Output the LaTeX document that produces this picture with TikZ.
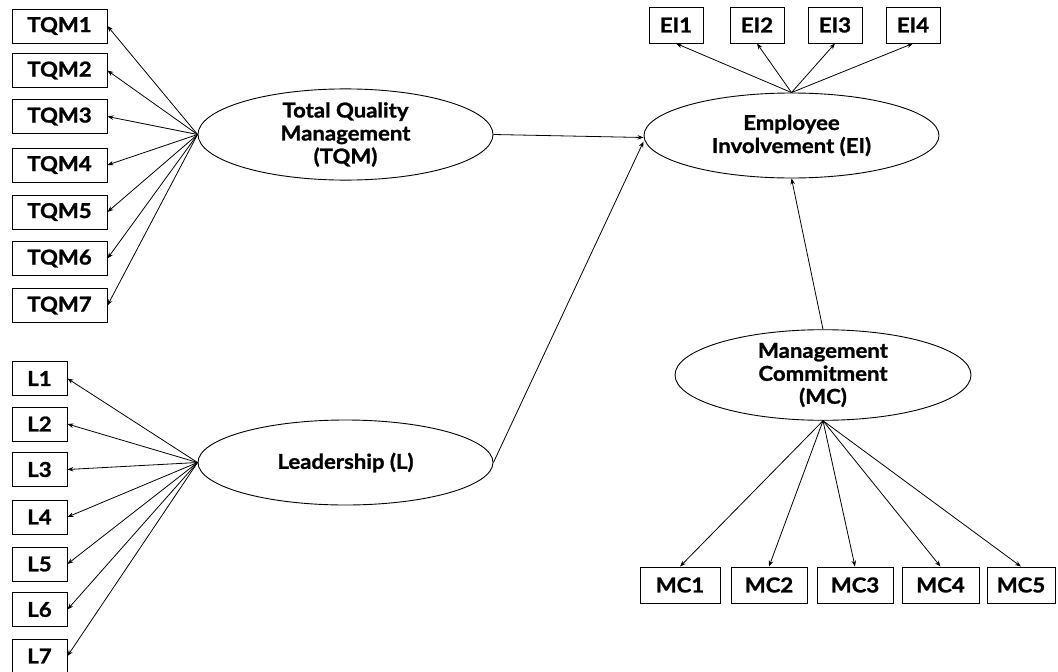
\documentclass[tikz,border=0pt]{standalone}
\usepackage{fontspec}
\setmainfont{Lato}[FakeStretch=1.08, BoldFeatures={FakeBold=1.2}]
\usetikzlibrary{arrows.meta,shapes.geometric}
\begin{document}
\begin{tikzpicture}[x=1pt,y=-1pt,
  txt/.style={font=\bfseries\fontsize{20.5}{23}\selectfont},
  box/.style={draw, line width=0.9pt, inner sep=0pt, minimum height=34pt, txt},
  lat/.style={draw, ellipse, line width=0.9pt, inner sep=0pt, minimum width=295pt, minimum height=85pt, align=center, txt},
  arr/.style={line width=0.8pt, -{Stealth[length=6pt,width=4.5pt]}}]
\useasboundingbox (0,0) rectangle (1058,672);
% latent variables
\node[lat] (TQM) at (345.5,134.5) {Total Quality\\Management\\(TQM)};
\node[lat] (L) at (345.5,462.5) {Leadership (L)};
\node[lat] (EI) at (791.5,135.5) {Employee\\Involvement (EI)};
\node[lat, minimum width=296pt, minimum height=84pt] (MC) at (823,375) {Management\\Commitment\\(MC)};
% TQM indicators
\foreach \i/\y in {1/26,2/70.5,3/116.5,4/165,5/212,6/258.5,7/305.5}{
  \node[box, minimum width=95pt] (TQM\i) at (59.5,\y) {TQM\i};
  \draw[arr] (TQM.west) -- (TQM\i.east);
}
% L indicators
\foreach \i/\y in {1/378.5,2/424,3/469.5,4/517,5/564,6/609.5,7/656}{
  \node[box, minimum width=55pt] (L\i) at (39.5,\y) {L\i};
  \draw[arr] (L.west) -- (L\i.east);
}
% EI indicators
\foreach \i/\x in {1/676,2/757,3/835,4/913}{
  \node[box, minimum width=54pt, minimum height=36pt] (EI\i) at (\x,25) {EI\i};
  \draw[arr] (EI.north) -- (EI\i.south);
}
% MC indicators
\foreach \i/\x/\w in {1/680/80,2/769/76,3/855/76,4/940.5/77,5/1021/68}{
  \node[box, minimum width=\w pt, minimum height=36pt] (MC\i) at (\x,585) {MC\i};
  \draw[arr] (MC.south) -- (MC\i.north);
}
% structural paths
\coordinate (EIa) at ([yshift=-2pt]EI.west);
\coordinate (EIb) at ([yshift=-6pt]EI.west);
\draw[arr] (TQM.east) -- (EIa);
\draw[arr] (L.east) -- (EIb);
\draw[arr] (MC.north) -- (EI.south);
\end{tikzpicture}
\end{document}
